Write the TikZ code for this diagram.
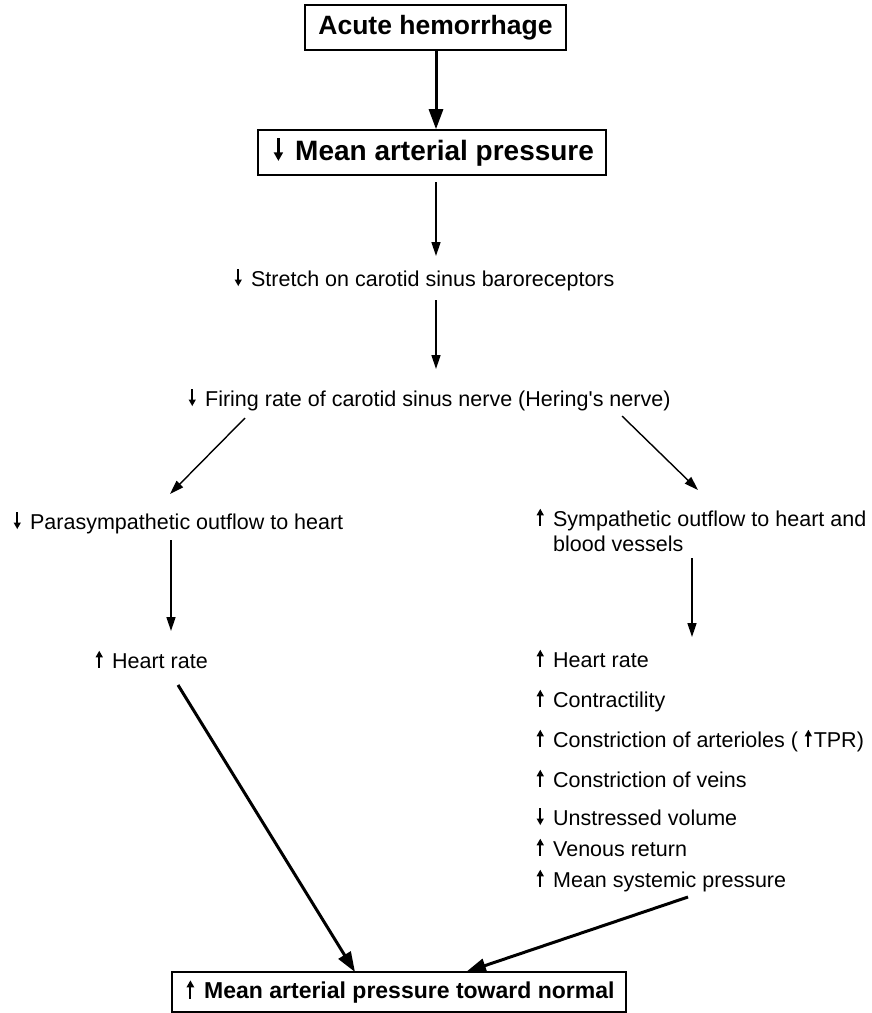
\documentclass[tikz,border=0pt]{standalone}
\usepackage{fontspec}
\setmainfont{Liberation Sans}
\usetikzlibrary{arrows.meta}
\newcommand\upa{\tikz[baseline=0pt,x=1em,y=1em]{\useasboundingbox (0,0) rectangle (0.9,0.8); \fill (0.255,0) rectangle (0.345,0.55); \fill (0.13,0.5) -- (0.47,0.5) -- (0.3,0.8) -- cycle;}}
\newcommand\dna{\tikz[baseline=0pt,x=1em,y=1em]{\useasboundingbox (0,0) rectangle (0.9,0.8); \fill (0.255,0.8) rectangle (0.345,0.25); \fill (0.13,0.3) -- (0.47,0.3) -- (0.3,0) -- cycle;}}
\newcommand\upin{\tikz[baseline=0pt,x=1em,y=1em]{\useasboundingbox (0,0) rectangle (0.45,0.8); \fill (0.155,0) rectangle (0.245,0.55); \fill (0.03,0.5) -- (0.37,0.5) -- (0.2,0.8) -- cycle;}}
\begin{document}
\begin{tikzpicture}[x=1pt,y=-1pt,
 box/.style={draw, line width=1.6pt, inner sep=0pt, font=\bfseries\fontsize{26.5}{30}\selectfont},
 txt/.style={anchor=base west, inner sep=0pt, font=\fontsize{21.5}{25}\selectfont},
 thinarr/.style={-{Triangle[length=14pt,width=9pt]}, line width=1.4pt},
 thickarr/.style={-{Triangle[length=20pt,width=14pt]}, line width=3pt}]
\useasboundingbox[fill=white] (0,0) rectangle (872,1013);
% boxes
\node[box, minimum width=261pt, minimum height=45pt] (b1) at (435.5,27.5) {Acute hemorrhage};
\node[box, minimum width=348pt, minimum height=45pt, font=\bfseries\fontsize{28}{30}\selectfont] (b2) at (432,152.5) {\dna Mean arterial pressure};
\node[box, minimum width=454pt, minimum height=40pt, font=\bfseries\fontsize{23}{28}\selectfont] (b3) at (399,992) {\upa Mean arterial pressure toward normal};
% texts
\node[txt] (s1) at (231.6,286) {\dna Stretch on carotid sinus baroreceptors};
\node[txt] (s2) at (185.6,406) {\dna Firing rate of carotid sinus nerve (Hering\textquotesingle s nerve)};
\node[txt] (pa) at (10.6,529) {\dna Parasympathetic outflow to heart};
\node[txt, align=left] (sy) at (533.6,551) {\upa Sympathetic outflow to heart and\\\phantom{\upa}blood vessels};
\node[txt] (hl) at (92.6,668) {\upa Heart rate};
\node[txt] (r1) at (533.6,667) {\upa Heart rate};
\node[txt] (r2) at (533.6,707) {\upa Contractility};
\node[txt] (r3) at (533.6,747) {\upa Constriction of arterioles ( \upin TPR)};
\node[txt] (r4) at (533.6,787) {\upa Constriction of veins};
\node[txt] (r5) at (533.6,825) {\dna Unstressed volume};
\node[txt] (r6) at (533.6,856) {\upa Venous return};
\node[txt] (r7) at (533.6,887) {\upa Mean systemic pressure};
% connector endpoints
\coordinate (a3s) at (436,182);
\coordinate (a3e) at (436,256);
\coordinate (a4s) at (436,300);
\coordinate (a4e) at (436,369);
\coordinate (dls) at (245,418);
\coordinate (dle) at (170,494);
\coordinate (drs) at (622,416);
\coordinate (dre) at (698,490);
\coordinate (vls) at (171,540);
\coordinate (vle) at (171,631);
\coordinate (vrs) at (692,558);
\coordinate (vre) at (692,637);
\coordinate (bls) at (178,685);
\coordinate (brs) at (688,897);
\coordinate (ble) at (355,972);
\coordinate (bre) at (466,972);
% connectors
\draw[thickarr] (b1.south -| 436,0) -- (b2.north -| 436,0);
\draw[thinarr] (a3s) -- (a3e);
\draw[thinarr] (a4s) -- (a4e);
\draw[thinarr] (dls) -- (dle);
\draw[thinarr] (drs) -- (dre);
\draw[thinarr] (vls) -- (vle);
\draw[thinarr] (vrs) -- (vre);
\draw[thickarr] (bls) -- (ble);
\draw[thickarr] (brs) -- (bre);
\end{tikzpicture}
\end{document}
